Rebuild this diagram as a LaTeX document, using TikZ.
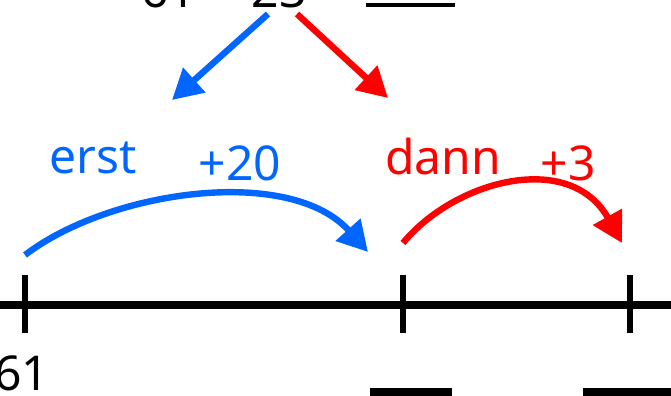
\documentclass[tikz,border=0pt]{standalone}
\usepackage{fontspec}
\setmainfont{Noto Sans}
\usetikzlibrary{arrows.meta}
\definecolor{myblue}{RGB}{0,102,255}
\definecolor{myred}{RGB}{255,0,0}
\begin{document}
\begin{tikzpicture}[x=0.5pt,y=-0.5pt,
  lbl/.style={font=\fontsize{24}{28}\selectfont, inner sep=0pt},
  axis/.style={line width=3.6pt, black},
  tick/.style={line width=3pt, black},
  bar/.style={line width=4pt, black},
  bluearr/.style={line width=3.2pt, myblue, -{Triangle[length=15pt,width=16pt]}},
  redarr/.style={line width=3.2pt, myred, -{Triangle[length=15pt,width=16pt]}}]
\useasboundingbox (0,0) rectangle (671,396);
\clip (0,0) rectangle (671,396);
% top equation (cut off)
\node[lbl, anchor=base] (a) at (169,8) {61};
\node[lbl, anchor=base] (b) at (279,8) {23};
\coordinate (u1) at (366,5);
\coordinate (u2) at (455,5);
\draw[line width=1.6pt] (u1) -- (u2);
% split arrows
\coordinate (bs) at (268,14);
\coordinate (be) at (172,100);
\coordinate (rs) at (297,14);
\coordinate (re) at (388,98);
\draw[bluearr] (bs) -- (be);
\draw[redarr] (rs) -- (re);
% labels
\node[lbl, text=myblue] (erst) at (93,158) {erst};
\node[lbl, text=myblue] (p20) at (240,163) {+20};
\node[lbl, text=myred] (dann) at (443,156) {dann};
\node[lbl, text=myred] (p3) at (568,163) {+3};
% number line
\coordinate (L) at (0,305);
\coordinate (R) at (671,305);
\draw[axis] (L) -- (R);
\coordinate (t1a) at (25,275); \coordinate (t1b) at (25,333);
\coordinate (t2a) at (403,275); \coordinate (t2b) at (403,333);
\coordinate (t3a) at (630,275); \coordinate (t3b) at (630,333);
\draw[tick] (t1a) -- (t1b);
\draw[tick] (t2a) -- (t2b);
\draw[tick] (t3a) -- (t3b);
% jumps
\coordinate (j1s) at (25,255);
\coordinate (j1e) at (368,252);
\coordinate (j2s) at (403,243);
\coordinate (j2e) at (622,243);
\draw[bluearr] (j1s) .. controls (110,190) and (290,165) .. (j1e);
\draw[redarr] (j2s) .. controls (455,180) and (570,150) .. (j2e);
% bottom
\node[lbl, anchor=base] (n61) at (22,390) {61};
\coordinate (b1a) at (370,392); \coordinate (b1b) at (452,392);
\coordinate (b2a) at (583,392); \coordinate (b2b) at (671,392);
\draw[bar] (b1a) -- (b1b);
\draw[bar] (b2a) -- (b2b);
\end{tikzpicture}
\end{document}
